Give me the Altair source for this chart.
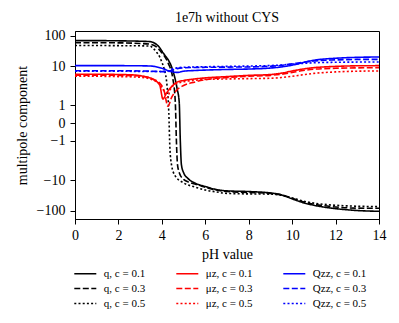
import altair as alt
import pandas as pd

FONT = "Liberation Serif"

# ---- data (pH, value) ----
q01_ph = [0, 1, 2, 3, 3.45, 3.9, 4.0, 4.15, 4.3, 4.5, 4.7, 4.8, 4.85, 4.9, 5.0, 5.2, 5.5, 6, 6.5, 7, 8, 9, 9.5, 10, 10.5, 11, 12, 13, 14]
q01_v = [68, 68, 67, 65, 63, 40, 31, 22, 15.7, 7.9, 2.7, 1.2, -1.0, -4.0, -6.4, -9, -12.2, -16, -20, -22.3, -23.5, -26, -30, -40.7, -54, -66, -85, -98, -104]

q03_ph = [0, 1, 2, 3, 3.45, 3.8, 3.9, 4.1, 4.3, 4.5, 4.62, 4.67, 4.72, 4.82, 5.0, 5.3, 5.7, 6, 6.5, 7, 8, 9, 9.5, 10, 10.5, 11, 12, 13, 14]
q03_v = [58, 58, 57.5, 55, 52, 40, 33, 22, 12, 5, 1.2, -1.0, -4.0, -6.8, -9.5, -12, -14.5, -17, -21, -23.5, -25, -27, -30, -39, -51, -61, -75, -82, -83]

q05_ph = [0, 1, 2, 3, 3.45, 3.6, 3.75, 3.9, 4.0, 4.1, 4.25, 4.32, 4.37, 4.45, 4.6, 5.0, 5.5, 6, 6.5, 7, 8, 9, 9.5, 10, 10.5, 11, 12, 13, 14]
q05_v = [47, 47, 46.5, 46, 45, 38, 29, 20, 13.5, 8.7, 2.7, 0.6, -1.5, -4.2, -7.5, -12.2, -16.5, -21, -24, -27, -28, -28.5, -31, -38, -48, -56, -66, -71, -73]

mu01_ph = [0, 1, 2, 2.8, 3.2, 3.6, 3.9, 4.05, 4.2, 4.4, 4.7, 5, 5.5, 6, 7, 8, 9, 9.5, 10, 10.5, 11, 12, 13, 14]
mu01_v = [6.2, 6.2, 6.1, 5.9, 5.4, 4.6, 3.3, 1.45, 2.0, 2.8, 3.9, 4.3, 4.7, 5.0, 5.4, 5.8, 6.1, 6.6, 7.5, 8.4, 9.1, 9.8, 10.2, 10.3]

mu03_ph = [0, 1, 2, 3, 3.5, 3.9, 4.1, 4.28, 4.45, 4.7, 5, 5.5, 6, 7, 8, 9, 9.5, 10, 10.5, 11, 12, 13, 14]
mu03_v = [5.9, 5.9, 5.8, 5.6, 4.9, 3.7, 2.4, 0.95, 1.6, 2.5, 3.2, 3.9, 4.5, 5.1, 5.5, 5.8, 6.2, 6.9, 7.7, 8.3, 8.8, 9.0, 9.1]

mu05_ph = [0, 1, 2, 3, 3.5, 3.9, 4.1, 4.25, 4.4, 4.6, 5, 5.5, 6, 7, 8, 9, 9.5, 10, 10.5, 11, 12, 13, 14]
mu05_v = [5.5, 5.5, 5.4, 5.2, 4.6, 3.4, 2.3, 1.6, 2.6, 3.4, 4.0, 4.3, 4.6, 4.7, 4.8, 4.9, 5.1, 5.5, 6.0, 6.5, 7.1, 7.4, 7.5]

Q01_ph = [0, 1, 2, 3, 3.5, 4, 4.4, 4.7, 5, 5.5, 6, 7, 8, 9, 9.5, 10, 10.5, 11, 12, 13, 14]
Q01_v = [10.3, 10.3, 10.3, 10.2, 10.0, 8.8, 7.3, 6.9, 7.4, 7.7, 7.9, 8.2, 8.4, 8.9, 9.5, 10.7, 13, 15.5, 18, 19.3, 19.8]

Q03_ph = [0, 1, 2, 3, 3.5, 4, 4.3, 4.5, 4.7, 5, 6, 7, 8, 9, 9.5, 10, 10.5, 11, 12, 13, 14]
Q03_v = [7.6, 7.6, 7.6, 7.5, 7.4, 7.2, 7.3, 8.0, 8.6, 9.0, 9.3, 9.4, 9.5, 9.9, 10.5, 11.8, 13.3, 14.7, 15.9, 16.5, 16.6]

Q05_ph = [0, 1, 2, 3, 3.5, 4, 4.3, 4.5, 4.7, 5, 6, 7, 8, 9, 9.5, 10, 10.5, 11, 12, 13, 14]
Q05_v = [7.4, 7.4, 7.4, 7.3, 7.3, 7.3, 7.6, 8.5, 9.0, 9.3, 9.6, 9.8, 10.0, 10.4, 10.8, 11.5, 12.2, 12.8, 13.3, 13.5, 13.6]

labels_q = ["q, c = 0.1", "q, c = 0.3", "q, c = 0.5"]
labels_mu = ["μz, c = 0.1", "μz, c = 0.3", "μz, c = 0.5"]
labels_Q = ["Qzz, c = 0.1", "Qzz, c = 0.3", "Qzz, c = 0.5"]

y_tick_labels = ["−100", "−10", "−1", "0", "1", "10", "100"]
x_ticks = [0, 2, 4, 6, 8, 10, 12, 14]

# column-major legend order (q | mu | Q columns)
series = [
    (labels_q[0], q01_ph, q01_v), (labels_q[1], q03_ph, q03_v), (labels_q[2], q05_ph, q05_v),
    (labels_mu[0], mu01_ph, mu01_v), (labels_mu[1], mu03_ph, mu03_v), (labels_mu[2], mu05_ph, mu05_v),
    (labels_Q[0], Q01_ph, Q01_v), (labels_Q[1], Q03_ph, Q03_v), (labels_Q[2], Q05_ph, Q05_v),
]
rows = []
for name, phs, vals in series:
    for p, v in zip(phs, vals):
        rows.append({"series": name, "pH": p, "v": v})
df = pd.DataFrame(rows)

order = [s[0] for s in series]
colors = ["black"] * 3 + ["red"] * 3 + ["blue"] * 3
dashes = [[1, 0], [6, 2.5], [2, 2.2]] * 3

# symmetric log-like transform used by the reference's y-axis
T = ("(abs(datum.v) <= 1 ? 17.7*abs(datum.v) : abs(datum.v) <= 10 ? "
     "17.7 + 39.3*log(abs(datum.v))/LN10 : 57 + 30.5*log(abs(datum.v)/10)/LN10)"
     " * (datum.v < 0 ? -1 : 1)")
tick_pos = [-87.5, -57, -17.7, 0, 17.7, 57, 87.5]
label_expr = ("datum.value > 80 ? '100' : datum.value > 40 ? '10' : datum.value > 10 ? '1' : "
              "datum.value > -10 ? '0' : datum.value > -40 ? '−1' : datum.value > -80 ? '−10' : '−100'")

legend = alt.Legend(
    title=None, orient="none", legendX=3.8, legendY=236, columns=3, direction="vertical",
    symbolType="M-2,0L2,0", symbolSize=121, symbolStrokeWidth=1.6,
    labelFont=FONT, labelFontSize=11, labelColor="black", labelOffset=12,
    columnPadding=27, rowPadding=3, values=order,
)

chart = alt.Chart(df).transform_calculate(ty=T).mark_line(
    strokeWidth=1.6, interpolate="monotone", clip=True
).encode(
    x=alt.X("pH:Q", scale=alt.Scale(domain=[0, 14], nice=False),
            axis=alt.Axis(values=x_ticks, title="pH value", labelFlush=False,
                          tickSize=5, labelPadding=4, titlePadding=5, grid=False)),
    y=alt.Y("ty:Q", scale=alt.Scale(domain=[-95.7, 92], nice=False, zero=False),
            axis=alt.Axis(values=tick_pos, labelExpr=label_expr, title="multipole component",
                          tickSize=5, labelPadding=5, titlePadding=7, grid=False)),
    color=alt.Color("series:N", scale=alt.Scale(domain=order, range=colors), legend=legend),
    strokeDash=alt.StrokeDash("series:N", scale=alt.Scale(domain=order, range=dashes), legend=legend),
).properties(
    width=304, height=188,
    title=alt.TitleParams("1e7h without CYS", font=FONT, fontSize=14, fontWeight="normal",
                          anchor="middle", offset=4, color="black"),
    autosize=alt.AutoSizeParams(type="none"),
    padding={"left": 67, "top": 23, "right": 12, "bottom": 95},
).configure_view(
    stroke="black", strokeWidth=1
).configure_axis(
    labelFont=FONT, titleFont=FONT, labelFontSize=14, titleFontSize=14,
    labelColor="black", titleColor="black", tickColor="black", domainColor="black",
    titleFontWeight="normal", tickWidth=1, domainWidth=1,
)

chart.save("out.html", embed_options={"renderer": "svg", "actions": False})
